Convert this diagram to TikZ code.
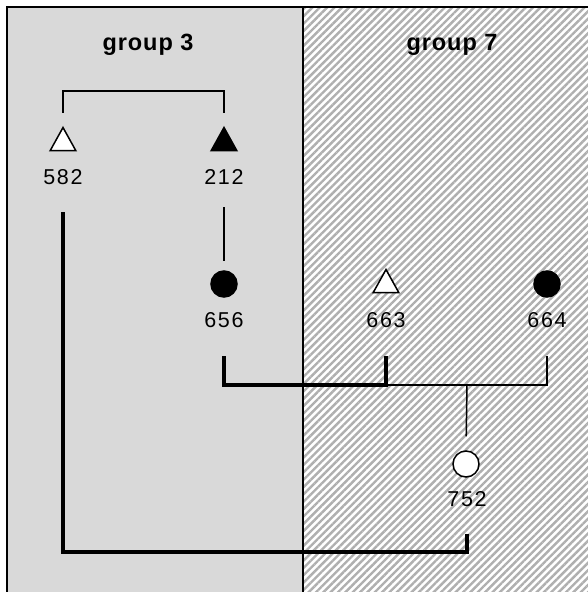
\documentclass[tikz,border=0pt]{standalone}
\usepackage{fontspec}
\setmainfont{Liberation Sans}
\newfontfamily\lblfont[LetterSpace=8]{Liberation Sans}
\newfontfamily\grpfont[LetterSpace=4]{Liberation Sans}
\usetikzlibrary{shapes.geometric,patterns.meta}
\definecolor{panelgray}{RGB}{217,217,217}
\definecolor{hatchgray}{RGB}{175,175,175}
\tikzset{
  tri/.style={isosceles triangle, isosceles triangle apex angle=58, shape border rotate=90, minimum height=23pt, minimum width=25pt, inner sep=0pt, draw=black, line width=1.5pt},
  opentri/.style={tri, fill=white},
  filltri/.style={tri, fill=black},
  dot/.style={circle, minimum size=26pt, inner sep=0pt, draw=black, line width=1.5pt},
  opendot/.style={dot, fill=white},
  filldot/.style={dot, fill=black},
  lbl/.style={font=\lblfont\fontsize{21.5}{21.5}\selectfont, inner sep=0pt, anchor=base},
  grp/.style={font=\grpfont\bfseries\fontsize{23.5}{23.5}\selectfont, inner sep=0pt, anchor=base},
  thinline/.style={line width=1.5pt},
  thickline/.style={line width=4pt},
}
\begin{document}
\begin{tikzpicture}[x=1pt,y=-1pt]
\useasboundingbox (0,0) rectangle (588,592);
% panels
\fill[panelgray] (7,7) rectangle (303,600);
\fill[white] (303,7) rectangle (600,600);
\fill[pattern={Lines[angle=45,distance=5.2pt,line width=2.4pt]}, pattern color=hatchgray] (303,7) rectangle (600,600);
\draw[line width=2pt] (7,600) -- (7,7) -- (600,7);
\draw[line width=1.5pt] (303,7) -- (303,600);
% group titles
\node[grp] (g3) at (148,50) {group 3};
\node[grp] (g7) at (452,50) {group 7};
% individuals
\node[opentri] (t582) at (63,143) {};
\node[filltri] (t212) at (224,143) {};
\node[filldot] (c656) at (224,284) {};
\node[opentri] (t663) at (386,285) {};
\node[filldot] (c664) at (547,284) {};
\node[opendot] (c752) at (466,464) {};
% labels
\node[lbl] (l582) at (63,184) {582};
\node[lbl] (l212) at (224,184) {212};
\node[lbl] (l656) at (224,327) {656};
\node[lbl] (l663) at (386,327) {663};
\node[lbl] (l664) at (547,327) {664};
\node[lbl] (l752) at (467,506) {752};
% junctions
\coordinate (top3) at (144,91);
\coordinate (j1) at (305,385);
\coordinate (j2) at (386,385);
\coordinate (j3) at (467,385);
\coordinate (j4) at (265,552);
% connectors
\draw[thinline, shorten <=13pt, shorten >=13pt] (t582.apex) |- (top3) -| (t212.apex);
\draw[thinline, shorten <=23pt, shorten >=9pt] (l212.south) -- (c656.north);
\draw[thickline, shorten <=29pt, shorten >=29pt] (l656.south) |- (j1) -| (l663.south);
\draw[thinline, shorten >=29pt] (j2) -| (l664.south);
\draw[thinline, shorten >=14pt] (j3) -- (c752.north);
\draw[thickline, shorten <=28pt, shorten >=28pt] (l582.south) |- (j4) -| (l752.south);
\end{tikzpicture}
\end{document}
